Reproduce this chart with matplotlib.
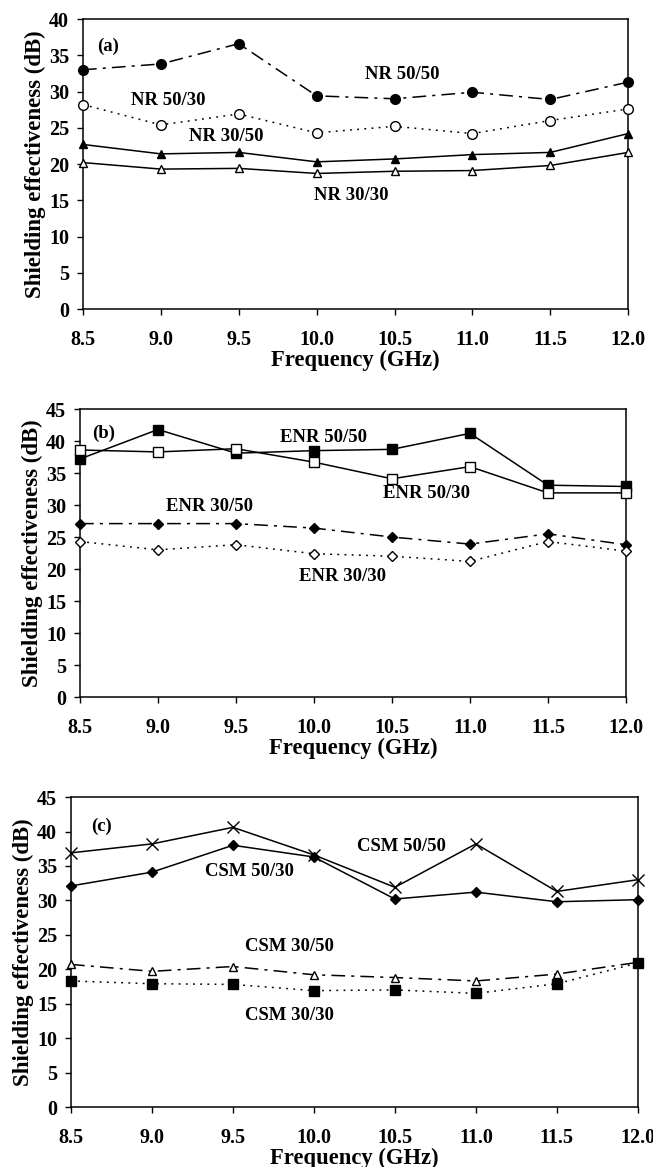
import matplotlib
matplotlib.use("Agg")
import matplotlib.pyplot as plt

plt.rcParams['font.family'] = ['Liberation Serif', 'DejaVu Serif']
plt.rcParams['font.weight'] = 'bold'

# ------------------------------
# Dados
# ------------------------------
freq = [8.5, 9.0, 9.5, 10.0, 10.5, 11.0, 11.5, 12.0]
freq_ticks = ['8.5', '9.0', '9.5', '10.0', '10.5', '11.0', '11.5', '12.0']

nr_50_50 = [33.0, 33.8, 36.6, 29.4, 29.0, 29.9, 28.9, 31.3]
nr_50_30 = [28.2, 25.4, 26.9, 24.3, 25.2, 24.2, 26.0, 27.6]
nr_30_50 = [22.7, 21.4, 21.6, 20.3, 20.7, 21.3, 21.6, 24.2]
nr_30_30 = [20.2, 19.3, 19.4, 18.7, 19.0, 19.1, 19.8, 21.6]

enr_50_50 = [37.2, 41.8, 38.1, 38.5, 38.7, 41.2, 33.1, 32.9]
enr_50_30 = [38.6, 38.3, 38.8, 36.7, 34.1, 36.0, 31.9, 31.9]
enr_30_50 = [27.1, 27.1, 27.1, 26.4, 25.0, 23.9, 25.5, 23.8]
enr_30_30 = [24.3, 23.0, 23.8, 22.4, 22.0, 21.2, 24.3, 22.8]

csm_50_50 = [36.9, 38.2, 40.6, 36.6, 31.9, 38.2, 31.3, 33.0]
csm_50_30 = [32.1, 34.1, 38.0, 36.3, 30.2, 31.2, 29.8, 30.1]
csm_30_50 = [20.7, 19.7, 20.4, 19.2, 18.8, 18.3, 19.3, 21.0]
csm_30_30 = [18.3, 17.9, 17.8, 16.9, 17.0, 16.5, 17.9, 20.9]

fig = plt.figure(figsize=(6.53, 11.67), dpi=100)

dashdot = (0, (9, 4, 2, 4))
dotted = (0, (1.2, 3.5))
fs_txt = 13.5


def estilo(ax, ymax):
    ax.set_xlim(8.5, 12.0)
    ax.set_ylim(0, ymax)
    ax.set_xticks(freq)
    ax.set_xticklabels(freq_ticks)
    ax.set_yticks(range(0, ymax + 1, 5))
    ax.tick_params(axis='both', direction='out', length=4, width=1,
                   labelsize=14.5, pad=11)
    ax.tick_params(axis='y', pad=6)
    for lab in ax.get_xticklabels() + ax.get_yticklabels():
        lab.set_fontweight('bold')
    for s in ax.spines.values():
        s.set_linewidth(1.1)
    ax.set_xlabel('Frequency (GHz)', fontsize=16.3, fontweight='bold', labelpad=0)
    ax.set_ylabel('Shielding effectiveness (dB)', fontsize=16.5,
                  fontweight='bold', labelpad=2)


def serie(ax, y, marker, mfc, ls, ms=6):
    ax.plot(freq, y, color='black', lw=1.1, ls=ls, marker=marker,
            mfc=mfc, mec='black', ms=ms, mew=1.0, clip_on=False, zorder=3)


# ------------------------------
# (a) NR
# ------------------------------
ax1 = fig.add_axes([0.127, 0.7352, 0.835, 0.2485])
serie(ax1, nr_50_50, 'o', 'black', dashdot, 7)
serie(ax1, nr_50_30, 'o', 'white', dotted, 7)
serie(ax1, nr_30_50, '^', 'black', '-')
serie(ax1, nr_30_30, '^', 'white', '-')
estilo(ax1, 40)
ax1.text(8.66, 36.3, '(a)', fontsize=fs_txt, ha='center', va='center')
ax1.text(10.55, 32.4, 'NR 50/50', fontsize=fs_txt, ha='center', va='center')
ax1.text(9.05, 28.8, 'NR 50/30', fontsize=fs_txt, ha='center', va='center')
ax1.text(9.42, 23.8, 'NR 30/50', fontsize=fs_txt, ha='center', va='center')
ax1.text(10.22, 15.7, 'NR 30/30', fontsize=fs_txt, ha='center', va='center')

# ------------------------------
# (b) ENR
# ------------------------------
ax2 = fig.add_axes([0.1225, 0.4027, 0.836, 0.2468])
serie(ax2, enr_50_50, 's', 'black', '-', 7)
serie(ax2, enr_50_30, 's', 'white', '-', 7)
serie(ax2, enr_30_50, 'D', 'black', dashdot, 5)
serie(ax2, enr_30_30, 'D', 'white', dotted, 5)
estilo(ax2, 45)
ax2.text(8.65, 41.2, '(b)', fontsize=fs_txt, ha='center', va='center')
ax2.text(10.06, 40.6, 'ENR 50/50', fontsize=fs_txt, ha='center', va='center')
ax2.text(10.72, 31.8, 'ENR 50/30', fontsize=fs_txt, ha='center', va='center')
ax2.text(9.33, 29.8, 'ENR 30/50', fontsize=fs_txt, ha='center', va='center')
ax2.text(10.18, 18.9, 'ENR 30/30', fontsize=fs_txt, ha='center', va='center')

# ------------------------------
# (c) CSM
# ------------------------------
ax3 = fig.add_axes([0.1087, 0.0514, 0.868, 0.2656])
serie(ax3, csm_50_50, 'x', 'black', '-', 8)
serie(ax3, csm_50_30, 'D', 'black', '-', 5)
serie(ax3, csm_30_50, '^', 'white', dashdot)
serie(ax3, csm_30_30, 's', 'black', dotted, 7)
estilo(ax3, 45)
ax3.text(8.69, 40.7, '(c)', fontsize=fs_txt, ha='center', va='center')
ax3.text(10.54, 37.8, 'CSM 50/50', fontsize=fs_txt, ha='center', va='center')
ax3.text(9.6, 34.2, 'CSM 50/30', fontsize=fs_txt, ha='center', va='center')
ax3.text(9.85, 23.3, 'CSM 30/50', fontsize=fs_txt, ha='center', va='center')
ax3.text(9.85, 13.3, 'CSM 30/30', fontsize=fs_txt, ha='center', va='center')

fig.savefig('out.png', dpi=100)
